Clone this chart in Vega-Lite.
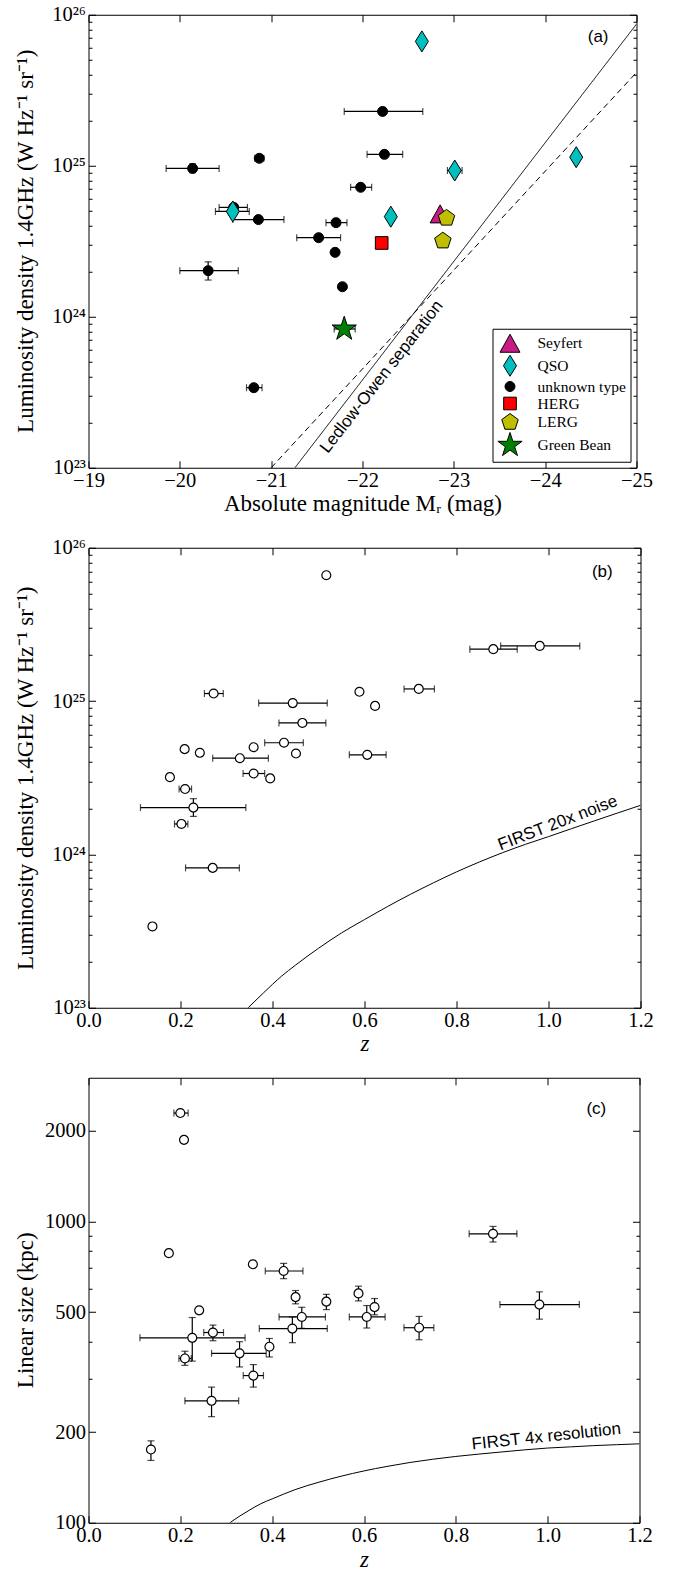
{
  "$schema": "https://vega.github.io/schema/vega-lite/v6.json",
  "padding": {"left": 13.5, "top": 3.75, "right": 5, "bottom": 0},
  "spacing": 20,
  "resolve": {"legend": {"color": "independent", "shape": "independent", "size": "independent", "strokeDash": "independent"}},
  "config": {
    "view": {"stroke": "black", "strokeWidth": 1},
    "axis": {"domain": false, "grid": false, "labelFont": "Liberation Serif", "labelFontSize": 20.5, "labelColor": "black", "titleFont": "Liberation Serif", "titleFontSize": 23, "titleFontWeight": "normal", "titleColor": "black", "tickColor": "black", "tickWidth": 1, "labelFlush": false, "labelOverlap": false, "ticks": true},
    "text": {"font": "Liberation Sans", "fontSize": 17, "color": "black"}
  },
  "datasets": {
    "A": [
      {"type": "unknown type", "M": -22.22, "L": 2.29e25, "Mlo": -21.80, "Mhi": -22.66},
      {"type": "unknown type", "M": -22.24, "L": 1.19e25, "Mlo": -22.05, "Mhi": -22.44},
      {"type": "unknown type", "M": -20.87, "L": 1.12e25, "Mlo": -20.82, "Mhi": -20.92},
      {"type": "unknown type", "M": -20.14, "L": 9.6e24, "Mlo": -19.85, "Mhi": -20.43, "Llo": 9.0e24, "Lhi": 1.03e25},
      {"type": "unknown type", "M": -21.98, "L": 7.2e24, "Mlo": -21.87, "Mhi": -22.10},
      {"type": "unknown type", "M": -20.59, "L": 5.3e24, "Mlo": -20.43, "Mhi": -20.74},
      {"type": "unknown type", "M": -20.86, "L": 4.4e24, "Mlo": -20.58, "Mhi": -21.14},
      {"type": "unknown type", "M": -21.71, "L": 4.2e24, "Mlo": -21.60, "Mhi": -21.83},
      {"type": "unknown type", "M": -21.52, "L": 3.34e24, "Mlo": -21.28, "Mhi": -21.76},
      {"type": "unknown type", "M": -21.70, "L": 2.67e24},
      {"type": "unknown type", "M": -20.31, "L": 2.02e24, "Mlo": -20.00, "Mhi": -20.64, "Llo": 1.75e24, "Lhi": 2.31e24},
      {"type": "unknown type", "M": -21.78, "L": 1.58e24},
      {"type": "unknown type", "M": -20.81, "L": 3.39e23, "Mlo": -20.73, "Mhi": -20.90},
      {"type": "QSO", "M": -22.65, "L": 6.66e25},
      {"type": "QSO", "M": -24.34, "L": 1.14e25},
      {"type": "QSO", "M": -23.01, "L": 9.3e24, "Mlo": -22.93, "Mhi": -23.09},
      {"type": "QSO", "M": -20.58, "L": 4.98e24, "Mlo": -20.39, "Mhi": -20.76},
      {"type": "QSO", "M": -22.31, "L": 4.6e24},
      {"type": "Seyfert", "M": -22.85, "L": 4.8e24},
      {"type": "HERG", "M": -22.21, "L": 3.08e24},
      {"type": "LERG", "M": -22.92, "L": 4.5e24},
      {"type": "LERG", "M": -22.88, "L": 3.18e24},
      {"type": "Green Bean", "M": -21.80, "L": 8.3e23, "Mlo": -21.69, "Mhi": -21.92}
    ],
    "A_lines": [
      {"style": "solid", "M": -21.26, "L": 1e23},
      {"style": "solid", "M": -25, "L": 8.67e25},
      {"style": "dashed", "M": -21.0, "L": 1e23},
      {"style": "dashed", "M": -25, "L": 4.15e25}
    ],
    "B": [
      {"z": 0.517, "L": 6.62e25},
      {"z": 0.981, "L": 2.29e25, "zlo": 0.896, "zhi": 1.068, "Llo": 2.18e25, "Lhi": 2.40e25},
      {"z": 0.880, "L": 2.18e25, "zlo": 0.829, "zhi": 0.932},
      {"z": 0.718, "L": 1.20e25, "zlo": 0.686, "zhi": 0.752},
      {"z": 0.272, "L": 1.12e25, "zlo": 0.252, "zhi": 0.293},
      {"z": 0.589, "L": 1.15e25},
      {"z": 0.444, "L": 9.7e24, "zlo": 0.370, "zhi": 0.519, "Llo": 9.2e24, "Lhi": 1.02e25},
      {"z": 0.623, "L": 9.3e24},
      {"z": 0.465, "L": 7.2e24, "zlo": 0.414, "zhi": 0.516},
      {"z": 0.425, "L": 5.35e24, "zlo": 0.383, "zhi": 0.467},
      {"z": 0.209, "L": 4.86e24},
      {"z": 0.359, "L": 5.0e24},
      {"z": 0.242, "L": 4.6e24},
      {"z": 0.451, "L": 4.55e24},
      {"z": 0.329, "L": 4.24e24, "zlo": 0.270, "zhi": 0.391},
      {"z": 0.606, "L": 4.46e24, "zlo": 0.567, "zhi": 0.647},
      {"z": 0.359, "L": 3.37e24, "zlo": 0.336, "zhi": 0.383},
      {"z": 0.395, "L": 3.13e24},
      {"z": 0.177, "L": 3.19e24},
      {"z": 0.210, "L": 2.67e24, "zlo": 0.197, "zhi": 0.224},
      {"z": 0.228, "L": 2.02e24, "zlo": 0.113, "zhi": 0.342, "Llo": 1.77e24, "Lhi": 2.31e24},
      {"z": 0.202, "L": 1.58e24, "zlo": 0.187, "zhi": 0.216},
      {"z": 0.270, "L": 8.17e23, "zlo": 0.211, "zhi": 0.328},
      {"z": 0.139, "L": 3.39e23}
    ],
    "B_curve": [
      {"z": 0.347, "L": 1.0e23},
      {"z": 0.36, "L": 1.091e23},
      {"z": 0.38, "L": 1.247e23},
      {"z": 0.40, "L": 1.422e23},
      {"z": 0.42, "L": 1.61e23},
      {"z": 0.45, "L": 1.897e23},
      {"z": 0.50, "L": 2.443e23},
      {"z": 0.55, "L": 3.076e23},
      {"z": 0.60, "L": 3.758e23},
      {"z": 0.65, "L": 4.571e23},
      {"z": 0.70, "L": 5.495e23},
      {"z": 0.75, "L": 6.531e23},
      {"z": 0.80, "L": 7.691e23},
      {"z": 0.85, "L": 8.933e23},
      {"z": 0.90, "L": 1.026e24},
      {"z": 0.95, "L": 1.164e24},
      {"z": 1.00, "L": 1.306e24},
      {"z": 1.05, "L": 1.472e24},
      {"z": 1.10, "L": 1.656e24},
      {"z": 1.15, "L": 1.862e24},
      {"z": 1.20, "L": 2.089e24}
    ],
    "C": [
      {"z": 0.200, "S": 2291, "zlo": 0.186, "zhi": 0.217},
      {"z": 0.208, "S": 1866},
      {"z": 0.175, "S": 785},
      {"z": 0.881, "S": 910, "zlo": 0.829, "zhi": 0.933, "Slo": 855, "Shi": 963},
      {"z": 0.358, "S": 721},
      {"z": 0.425, "S": 685, "zlo": 0.385, "zhi": 0.467, "Slo": 646, "Shi": 726},
      {"z": 0.451, "S": 561, "Slo": 533, "Shi": 590},
      {"z": 0.518, "S": 542, "Slo": 510, "Shi": 573},
      {"z": 0.588, "S": 577, "Slo": 545, "Shi": 610},
      {"z": 0.623, "S": 520, "Slo": 490, "Shi": 555},
      {"z": 0.982, "S": 530, "zlo": 0.896, "zhi": 1.069, "Slo": 474, "Shi": 584},
      {"z": 0.241, "S": 507, "Slo": 499, "Shi": 516},
      {"z": 0.4645, "S": 482, "zlo": 0.415, "zhi": 0.516, "Slo": 442, "Shi": 519},
      {"z": 0.606, "S": 482, "zlo": 0.568, "zhi": 0.646, "Slo": 443, "Shi": 526},
      {"z": 0.444, "S": 441, "zlo": 0.372, "zhi": 0.520, "Slo": 396, "Shi": 482},
      {"z": 0.720, "S": 444, "zlo": 0.687, "zhi": 0.752, "Slo": 405, "Shi": 484},
      {"z": 0.271, "S": 428, "zlo": 0.251, "zhi": 0.294, "Slo": 402, "Shi": 453},
      {"z": 0.226, "S": 411, "zlo": 0.112, "zhi": 0.341, "Slo": 344, "Shi": 480},
      {"z": 0.394, "S": 384, "Slo": 355, "Shi": 409},
      {"z": 0.329, "S": 365, "zlo": 0.268, "zhi": 0.387, "Slo": 329, "Shi": 399},
      {"z": 0.210, "S": 351, "zlo": 0.197, "zhi": 0.224, "Slo": 333, "Shi": 371},
      {"z": 0.359, "S": 308, "zlo": 0.337, "zhi": 0.381, "Slo": 282, "Shi": 335},
      {"z": 0.268, "S": 254, "zlo": 0.210, "zhi": 0.327, "Slo": 225, "Shi": 282},
      {"z": 0.136, "S": 175, "Slo": 161, "Shi": 187}
    ],
    "C_curve": [
      {"z": 0.308, "S": 100},
      {"z": 0.33, "S": 105.4},
      {"z": 0.35, "S": 110},
      {"z": 0.375, "S": 115.6},
      {"z": 0.40, "S": 120},
      {"z": 0.45, "S": 128.8},
      {"z": 0.50, "S": 136.1},
      {"z": 0.55, "S": 142.7},
      {"z": 0.60, "S": 148.6},
      {"z": 0.65, "S": 153.8},
      {"z": 0.70, "S": 158.5},
      {"z": 0.75, "S": 162.5},
      {"z": 0.80, "S": 166},
      {"z": 0.85, "S": 169},
      {"z": 0.90, "S": 171.8},
      {"z": 0.95, "S": 174.6},
      {"z": 1.00, "S": 177},
      {"z": 1.05, "S": 178.6},
      {"z": 1.10, "S": 180.3},
      {"z": 1.15, "S": 181.6},
      {"z": 1.20, "S": 182.8}
    ]
  },
  "vconcat": [
    {
      "width": 548,
      "height": 453,
      "resolve": {"axis": {"x": "independent", "y": "independent"}},
      "layer": [
        {
          "data": {"name": "A"},
          "mark": {"type": "point", "opacity": 0},
          "encoding": {
            "x": {"field": "M", "type": "quantitative", "scale": {"domain": [-25, -19], "reverse": true, "nice": false, "zero": false}, "title": "Absolute magnitude Mᵣ (mag)",
              "axis": {"orient": "bottom", "values": [-19, -20, -21, -22, -23, -24, -25], "labelExpr": "'−' + format(-datum.value, 'd')", "tickSize": -7, "labelPadding": 10, "titleY": 36, "titleBaseline": "middle"}},
            "y": {"field": "L", "type": "quantitative", "scale": {"type": "log", "domain": [1e23, 1e26], "nice": false}, "title": "Luminosity density 1.4GHz (W Hz⁻¹ sr⁻¹)",
              "axis": {"orient": "left", "values": [1e23, 2e23, 3e23, 4e23, 5e23, 6e23, 7e23, 8e23, 9e23, 1e24, 2e24, 3e24, 4e24, 5e24, 6e24, 7e24, 8e24, 9e24, 1e25, 2e25, 3e25, 4e25, 5e25, 6e25, 7e25, 8e25, 9e25, 1e26],
                "labelExpr": "abs(log(datum.value)/LN10 - round(log(datum.value)/LN10)) < 0.001 ? ['10²³','10²⁴','10²⁵','10²⁶'][round(log(datum.value)/LN10) - 23] : ''",
                "tickSize": {"condition": {"test": "abs(log(datum.value)/LN10 - round(log(datum.value)/LN10)) < 0.001", "value": -7}, "value": -3.5},
                "labelPadding": 10, "titleX": -63, "titleY": 226, "titleBaseline": "middle", "titleAngle": -90}}
          }
        },
        {
          "data": {"name": "A"},
          "mark": {"type": "point", "opacity": 0},
          "encoding": {
            "x": {"field": "M", "type": "quantitative", "scale": {"domain": [-25, -19], "reverse": true, "nice": false, "zero": false}, "title": null,
              "axis": {"orient": "top", "values": [-19, -20, -21, -22, -23, -24, -25], "labels": false, "tickSize": -7}},
            "y": {"field": "L", "type": "quantitative", "scale": {"type": "log", "domain": [1e23, 1e26], "nice": false}, "title": null,
              "axis": {"orient": "right", "values": [1e23, 2e23, 3e23, 4e23, 5e23, 6e23, 7e23, 8e23, 9e23, 1e24, 2e24, 3e24, 4e24, 5e24, 6e24, 7e24, 8e24, 9e24, 1e25, 2e25, 3e25, 4e25, 5e25, 6e25, 7e25, 8e25, 9e25, 1e26], "labels": false,
                "tickSize": {"condition": {"test": "abs(log(datum.value)/LN10 - round(log(datum.value)/LN10)) < 0.001", "value": -7}, "value": -3.5}}}
          }
        },
        {
          "data": {"name": "A_lines"},
          "mark": {"type": "line", "color": "black", "strokeWidth": 1, "clip": true},
          "encoding": {
            "x": {"field": "M", "type": "quantitative", "scale": {"domain": [-25, -19], "reverse": true, "nice": false, "zero": false}, "axis": null},
            "y": {"field": "L", "type": "quantitative", "scale": {"type": "log", "domain": [1e23, 1e26], "nice": false}, "axis": null},
            "strokeDash": {"field": "style", "type": "nominal", "scale": {"domain": ["solid", "dashed"], "range": [[1, 0], [6, 4]]}, "legend": null}
          }
        },
        {
          "data": {"name": "A"},
          "transform": [{"filter": "isValid(datum.Mlo)"}],
          "mark": {"type": "rule", "color": "black", "strokeWidth": 1.2},
          "encoding": {
            "x": {"field": "Mlo", "type": "quantitative", "scale": {"domain": [-25, -19], "reverse": true, "nice": false, "zero": false}, "axis": null},
            "x2": {"field": "Mhi"},
            "y": {"field": "L", "type": "quantitative", "scale": {"type": "log", "domain": [1e23, 1e26], "nice": false}, "axis": null}
          }
        },
        {
          "data": {"name": "A"},
          "transform": [{"filter": "isValid(datum.Mlo)"}, {"fold": ["Mlo", "Mhi"], "as": ["k", "v"]}],
          "mark": {"type": "tick", "orient": "vertical", "color": "black", "size": 7, "thickness": 1.2},
          "encoding": {
            "x": {"field": "v", "type": "quantitative", "scale": {"domain": [-25, -19], "reverse": true, "nice": false, "zero": false}, "axis": null},
            "y": {"field": "L", "type": "quantitative", "scale": {"type": "log", "domain": [1e23, 1e26], "nice": false}, "axis": null}
          }
        },
        {
          "data": {"name": "A"},
          "transform": [{"filter": "isValid(datum.Llo)"}],
          "mark": {"type": "rule", "color": "black", "strokeWidth": 1.2},
          "encoding": {
            "x": {"field": "M", "type": "quantitative", "scale": {"domain": [-25, -19], "reverse": true, "nice": false, "zero": false}, "axis": null},
            "y": {"field": "Llo", "type": "quantitative", "scale": {"type": "log", "domain": [1e23, 1e26], "nice": false}, "axis": null},
            "y2": {"field": "Lhi"}
          }
        },
        {
          "data": {"name": "A"},
          "transform": [{"filter": "isValid(datum.Llo)"}, {"fold": ["Llo", "Lhi"], "as": ["k", "v"]}],
          "mark": {"type": "tick", "orient": "horizontal", "color": "black", "size": 7, "thickness": 1.2},
          "encoding": {
            "x": {"field": "M", "type": "quantitative", "scale": {"domain": [-25, -19], "reverse": true, "nice": false, "zero": false}, "axis": null},
            "y": {"field": "v", "type": "quantitative", "scale": {"type": "log", "domain": [1e23, 1e26], "nice": false}, "axis": null}
          }
        },
        {
          "data": {"name": "A"},
          "mark": {"type": "point", "filled": true, "stroke": "black", "strokeWidth": 1, "opacity": 1},
          "encoding": {
            "x": {"field": "M", "type": "quantitative", "scale": {"domain": [-25, -19], "reverse": true, "nice": false, "zero": false}, "axis": null},
            "y": {"field": "L", "type": "quantitative", "scale": {"type": "log", "domain": [1e23, 1e26], "nice": false}, "axis": null},
            "color": {"field": "type", "type": "nominal",
              "scale": {"domain": ["Seyfert", "QSO", "unknown type", "HERG", "LERG", "Green Bean"], "range": ["#c71c83", "#00bfbf", "#000000", "#ff0000", "#bfbf00", "#008000"]},
              "legend": {"title": null, "orient": "bottom-right", "offset": 6, "strokeColor": "black", "fillColor": "white", "padding": 4, "labelFont": "Liberation Serif", "labelFontSize": 15.5, "labelColor": "black", "symbolStrokeColor": "black", "symbolStrokeWidth": 1, "rowPadding": -2, "labelOffset": 14, "cornerRadius": 0}},
            "shape": {"field": "type", "type": "nominal",
              "scale": {"domain": ["Seyfert", "QSO", "unknown type", "HERG", "LERG", "Green Bean"], "range": ["M0,-0.9L1,0.9L-1,0.9Z", "M0,-1L0.62,0L0,1L-0.62,0Z", "circle", "square", "M0,-1L0.951,-0.309L0.588,0.809L-0.588,0.809L-0.951,-0.309Z", "M0,-1L0.2245,-0.309L0.9511,-0.309L0.3633,0.118L0.5878,0.809L0,0.382L-0.5878,0.809L-0.3633,0.118L-0.9511,-0.309L-0.2245,-0.309Z"]}},
            "size": {"field": "type", "type": "nominal",
              "scale": {"type": "ordinal", "domain": ["Seyfert", "QSO", "unknown type", "HERG", "LERG", "Green Bean"], "range": [400, 441, 100, 160, 300, 650]}}
          }
        },
        {
          "data": {"values": [{"M": -24.58, "L": 7.08e25, "label": "(a)"}]},
          "mark": {"type": "text", "align": "center", "baseline": "middle"},
          "encoding": {
            "x": {"field": "M", "type": "quantitative", "scale": {"domain": [-25, -19], "reverse": true, "nice": false, "zero": false}, "axis": null},
            "y": {"field": "L", "type": "quantitative", "scale": {"type": "log", "domain": [1e23, 1e26], "nice": false}, "axis": null},
            "text": {"field": "label"}
          }
        },
        {
          "data": {"values": [{"M": -22.21, "L": 4.0e23, "label": "Ledlow-Owen separation"}]},
          "mark": {"type": "text", "align": "center", "baseline": "middle", "angle": -52},
          "encoding": {
            "x": {"field": "M", "type": "quantitative", "scale": {"domain": [-25, -19], "reverse": true, "nice": false, "zero": false}, "axis": null},
            "y": {"field": "L", "type": "quantitative", "scale": {"type": "log", "domain": [1e23, 1e26], "nice": false}, "axis": null},
            "text": {"field": "label"}
          }
        }
      ]
    },
    {
      "width": 552,
      "height": 460,
      "resolve": {"axis": {"x": "independent", "y": "independent"}},
      "layer": [
        {
          "data": {"name": "B"},
          "mark": {"type": "point", "opacity": 0},
          "encoding": {
            "x": {"field": "z", "type": "quantitative", "scale": {"domain": [0, 1.2], "nice": false, "zero": false}, "title": "z",
              "axis": {"orient": "bottom", "values": [0, 0.2, 0.4, 0.6, 0.8, 1.0, 1.2], "format": ".1f", "tickSize": -7, "labelPadding": 10, "titleY": 36, "titleBaseline": "middle", "titleFontStyle": "italic"}},
            "y": {"field": "L", "type": "quantitative", "scale": {"type": "log", "domain": [1e23, 1e26], "nice": false}, "title": "Luminosity density 1.4GHz (W Hz⁻¹ sr⁻¹)",
              "axis": {"orient": "left", "values": [1e23, 2e23, 3e23, 4e23, 5e23, 6e23, 7e23, 8e23, 9e23, 1e24, 2e24, 3e24, 4e24, 5e24, 6e24, 7e24, 8e24, 9e24, 1e25, 2e25, 3e25, 4e25, 5e25, 6e25, 7e25, 8e25, 9e25, 1e26],
                "labelExpr": "abs(log(datum.value)/LN10 - round(log(datum.value)/LN10)) < 0.001 ? ['10²³','10²⁴','10²⁵','10²⁶'][round(log(datum.value)/LN10) - 23] : ''",
                "tickSize": {"condition": {"test": "abs(log(datum.value)/LN10 - round(log(datum.value)/LN10)) < 0.001", "value": -7}, "value": -3.5},
                "labelPadding": 10, "titleX": -63, "titleY": 230, "titleBaseline": "middle", "titleAngle": -90}}
          }
        },
        {
          "data": {"name": "B"},
          "mark": {"type": "point", "opacity": 0},
          "encoding": {
            "x": {"field": "z", "type": "quantitative", "scale": {"domain": [0, 1.2], "nice": false, "zero": false}, "title": null,
              "axis": {"orient": "top", "values": [0, 0.2, 0.4, 0.6, 0.8, 1.0, 1.2], "labels": false, "tickSize": -7}},
            "y": {"field": "L", "type": "quantitative", "scale": {"type": "log", "domain": [1e23, 1e26], "nice": false}, "title": null,
              "axis": {"orient": "right", "values": [1e23, 2e23, 3e23, 4e23, 5e23, 6e23, 7e23, 8e23, 9e23, 1e24, 2e24, 3e24, 4e24, 5e24, 6e24, 7e24, 8e24, 9e24, 1e25, 2e25, 3e25, 4e25, 5e25, 6e25, 7e25, 8e25, 9e25, 1e26], "labels": false,
                "tickSize": {"condition": {"test": "abs(log(datum.value)/LN10 - round(log(datum.value)/LN10)) < 0.001", "value": -7}, "value": -3.5}}}
          }
        },
        {
          "data": {"name": "B_curve"},
          "mark": {"type": "line", "color": "black", "strokeWidth": 1, "clip": true, "interpolate": "monotone"},
          "encoding": {
            "x": {"field": "z", "type": "quantitative", "scale": {"domain": [0, 1.2], "nice": false, "zero": false}, "axis": null},
            "y": {"field": "L", "type": "quantitative", "scale": {"type": "log", "domain": [1e23, 1e26], "nice": false}, "axis": null}
          }
        },
        {
          "data": {"name": "B"},
          "transform": [{"filter": "isValid(datum.zlo)"}],
          "mark": {"type": "rule", "color": "black", "strokeWidth": 1.2},
          "encoding": {
            "x": {"field": "zlo", "type": "quantitative", "scale": {"domain": [0, 1.2], "nice": false, "zero": false}, "axis": null},
            "x2": {"field": "zhi"},
            "y": {"field": "L", "type": "quantitative", "scale": {"type": "log", "domain": [1e23, 1e26], "nice": false}, "axis": null}
          }
        },
        {
          "data": {"name": "B"},
          "transform": [{"filter": "isValid(datum.zlo)"}, {"fold": ["zlo", "zhi"], "as": ["k", "v"]}],
          "mark": {"type": "tick", "orient": "vertical", "color": "black", "size": 7, "thickness": 1.2},
          "encoding": {
            "x": {"field": "v", "type": "quantitative", "scale": {"domain": [0, 1.2], "nice": false, "zero": false}, "axis": null},
            "y": {"field": "L", "type": "quantitative", "scale": {"type": "log", "domain": [1e23, 1e26], "nice": false}, "axis": null}
          }
        },
        {
          "data": {"name": "B"},
          "transform": [{"filter": "isValid(datum.Llo)"}],
          "mark": {"type": "rule", "color": "black", "strokeWidth": 1.2},
          "encoding": {
            "x": {"field": "z", "type": "quantitative", "scale": {"domain": [0, 1.2], "nice": false, "zero": false}, "axis": null},
            "y": {"field": "Llo", "type": "quantitative", "scale": {"type": "log", "domain": [1e23, 1e26], "nice": false}, "axis": null},
            "y2": {"field": "Lhi"}
          }
        },
        {
          "data": {"name": "B"},
          "transform": [{"filter": "isValid(datum.Llo)"}, {"fold": ["Llo", "Lhi"], "as": ["k", "v"]}],
          "mark": {"type": "tick", "orient": "horizontal", "color": "black", "size": 7, "thickness": 1.2},
          "encoding": {
            "x": {"field": "z", "type": "quantitative", "scale": {"domain": [0, 1.2], "nice": false, "zero": false}, "axis": null},
            "y": {"field": "v", "type": "quantitative", "scale": {"type": "log", "domain": [1e23, 1e26], "nice": false}, "axis": null}
          }
        },
        {
          "data": {"name": "B"},
          "mark": {"type": "point", "shape": "circle", "filled": true, "fill": "white", "stroke": "black", "strokeWidth": 1.2, "size": 80, "opacity": 1},
          "encoding": {
            "x": {"field": "z", "type": "quantitative", "scale": {"domain": [0, 1.2], "nice": false, "zero": false}, "axis": null},
            "y": {"field": "L", "type": "quantitative", "scale": {"type": "log", "domain": [1e23, 1e26], "nice": false}, "axis": null}
          }
        },
        {
          "data": {"values": [{"z": 1.117, "L": 6.96e25, "label": "(b)"}]},
          "mark": {"type": "text", "align": "center", "baseline": "middle"},
          "encoding": {
            "x": {"field": "z", "type": "quantitative", "scale": {"domain": [0, 1.2], "nice": false, "zero": false}, "axis": null},
            "y": {"field": "L", "type": "quantitative", "scale": {"type": "log", "domain": [1e23, 1e26], "nice": false}, "axis": null},
            "text": {"field": "label"}
          }
        },
        {
          "data": {"values": [{"z": 1.02, "L": 1.6e24, "label": "FIRST 20x noise"}]},
          "mark": {"type": "text", "align": "center", "baseline": "middle", "angle": -21},
          "encoding": {
            "x": {"field": "z", "type": "quantitative", "scale": {"domain": [0, 1.2], "nice": false, "zero": false}, "axis": null},
            "y": {"field": "L", "type": "quantitative", "scale": {"type": "log", "domain": [1e23, 1e26], "nice": false}, "axis": null},
            "text": {"field": "label"}
          }
        }
      ]
    },
    {
      "width": 551,
      "height": 445,
      "resolve": {"axis": {"x": "independent", "y": "independent"}},
      "layer": [
        {
          "data": {"name": "C"},
          "mark": {"type": "point", "opacity": 0},
          "encoding": {
            "x": {"field": "z", "type": "quantitative", "scale": {"domain": [0, 1.2], "nice": false, "zero": false}, "title": "z",
              "axis": {"orient": "bottom", "values": [0, 0.2, 0.4, 0.6, 0.8, 1.0, 1.2], "format": ".1f", "tickSize": -7, "labelPadding": 10, "titleY": 37, "titleBaseline": "middle", "titleFontStyle": "italic"}},
            "y": {"field": "S", "type": "quantitative", "scale": {"type": "log", "domain": [100, 3000], "nice": false}, "title": "Linear size (kpc)",
              "axis": {"orient": "left", "values": [100, 200, 300, 400, 500, 600, 700, 800, 900, 1000, 2000],
                "labelExpr": "indexof([100,200,500,1000,2000], datum.value) >= 0 ? format(datum.value, 'd') : ''",
                "tickSize": {"condition": {"test": "indexof([100,200,500,1000,2000], datum.value) >= 0", "value": -7}, "value": -3.5},
                "labelPadding": 10, "titleX": -63, "titleY": 232, "titleBaseline": "middle", "titleAngle": -90}}
          }
        },
        {
          "data": {"name": "C"},
          "mark": {"type": "point", "opacity": 0},
          "encoding": {
            "x": {"field": "z", "type": "quantitative", "scale": {"domain": [0, 1.2], "nice": false, "zero": false}, "title": null,
              "axis": {"orient": "top", "values": [0, 0.2, 0.4, 0.6, 0.8, 1.0, 1.2], "labels": false, "tickSize": -7}},
            "y": {"field": "S", "type": "quantitative", "scale": {"type": "log", "domain": [100, 3000], "nice": false}, "title": null,
              "axis": {"orient": "right", "values": [100, 200, 300, 400, 500, 600, 700, 800, 900, 1000, 2000], "labels": false,
                "tickSize": {"condition": {"test": "indexof([100,200,500,1000,2000], datum.value) >= 0", "value": -7}, "value": -3.5}}}
          }
        },
        {
          "data": {"name": "C_curve"},
          "mark": {"type": "line", "color": "black", "strokeWidth": 1, "clip": true, "interpolate": "monotone"},
          "encoding": {
            "x": {"field": "z", "type": "quantitative", "scale": {"domain": [0, 1.2], "nice": false, "zero": false}, "axis": null},
            "y": {"field": "S", "type": "quantitative", "scale": {"type": "log", "domain": [100, 3000], "nice": false}, "axis": null}
          }
        },
        {
          "data": {"name": "C"},
          "transform": [{"filter": "isValid(datum.zlo)"}],
          "mark": {"type": "rule", "color": "black", "strokeWidth": 1.2},
          "encoding": {
            "x": {"field": "zlo", "type": "quantitative", "scale": {"domain": [0, 1.2], "nice": false, "zero": false}, "axis": null},
            "x2": {"field": "zhi"},
            "y": {"field": "S", "type": "quantitative", "scale": {"type": "log", "domain": [100, 3000], "nice": false}, "axis": null}
          }
        },
        {
          "data": {"name": "C"},
          "transform": [{"filter": "isValid(datum.zlo)"}, {"fold": ["zlo", "zhi"], "as": ["k", "v"]}],
          "mark": {"type": "tick", "orient": "vertical", "color": "black", "size": 7, "thickness": 1.2},
          "encoding": {
            "x": {"field": "v", "type": "quantitative", "scale": {"domain": [0, 1.2], "nice": false, "zero": false}, "axis": null},
            "y": {"field": "S", "type": "quantitative", "scale": {"type": "log", "domain": [100, 3000], "nice": false}, "axis": null}
          }
        },
        {
          "data": {"name": "C"},
          "transform": [{"filter": "isValid(datum.Slo)"}],
          "mark": {"type": "rule", "color": "black", "strokeWidth": 1.2},
          "encoding": {
            "x": {"field": "z", "type": "quantitative", "scale": {"domain": [0, 1.2], "nice": false, "zero": false}, "axis": null},
            "y": {"field": "Slo", "type": "quantitative", "scale": {"type": "log", "domain": [100, 3000], "nice": false}, "axis": null},
            "y2": {"field": "Shi"}
          }
        },
        {
          "data": {"name": "C"},
          "transform": [{"filter": "isValid(datum.Slo)"}, {"fold": ["Slo", "Shi"], "as": ["k", "v"]}],
          "mark": {"type": "tick", "orient": "horizontal", "color": "black", "size": 7, "thickness": 1.2},
          "encoding": {
            "x": {"field": "z", "type": "quantitative", "scale": {"domain": [0, 1.2], "nice": false, "zero": false}, "axis": null},
            "y": {"field": "v", "type": "quantitative", "scale": {"type": "log", "domain": [100, 3000], "nice": false}, "axis": null}
          }
        },
        {
          "data": {"name": "C"},
          "mark": {"type": "point", "shape": "circle", "filled": true, "fill": "white", "stroke": "black", "strokeWidth": 1.2, "size": 80, "opacity": 1},
          "encoding": {
            "x": {"field": "z", "type": "quantitative", "scale": {"domain": [0, 1.2], "nice": false, "zero": false}, "axis": null},
            "y": {"field": "S", "type": "quantitative", "scale": {"type": "log", "domain": [100, 3000], "nice": false}, "axis": null}
          }
        },
        {
          "data": {"values": [{"z": 1.106, "S": 2355, "label": "(c)"}]},
          "mark": {"type": "text", "align": "center", "baseline": "middle"},
          "encoding": {
            "x": {"field": "z", "type": "quantitative", "scale": {"domain": [0, 1.2], "nice": false, "zero": false}, "axis": null},
            "y": {"field": "S", "type": "quantitative", "scale": {"type": "log", "domain": [100, 3000], "nice": false}, "axis": null},
            "text": {"field": "label"}
          }
        },
        {
          "data": {"values": [{"z": 0.997, "S": 193, "label": "FIRST 4x resolution"}]},
          "mark": {"type": "text", "align": "center", "baseline": "middle", "angle": -6},
          "encoding": {
            "x": {"field": "z", "type": "quantitative", "scale": {"domain": [0, 1.2], "nice": false, "zero": false}, "axis": null},
            "y": {"field": "S", "type": "quantitative", "scale": {"type": "log", "domain": [100, 3000], "nice": false}, "axis": null},
            "text": {"field": "label"}
          }
        }
      ]
    }
  ]
}
